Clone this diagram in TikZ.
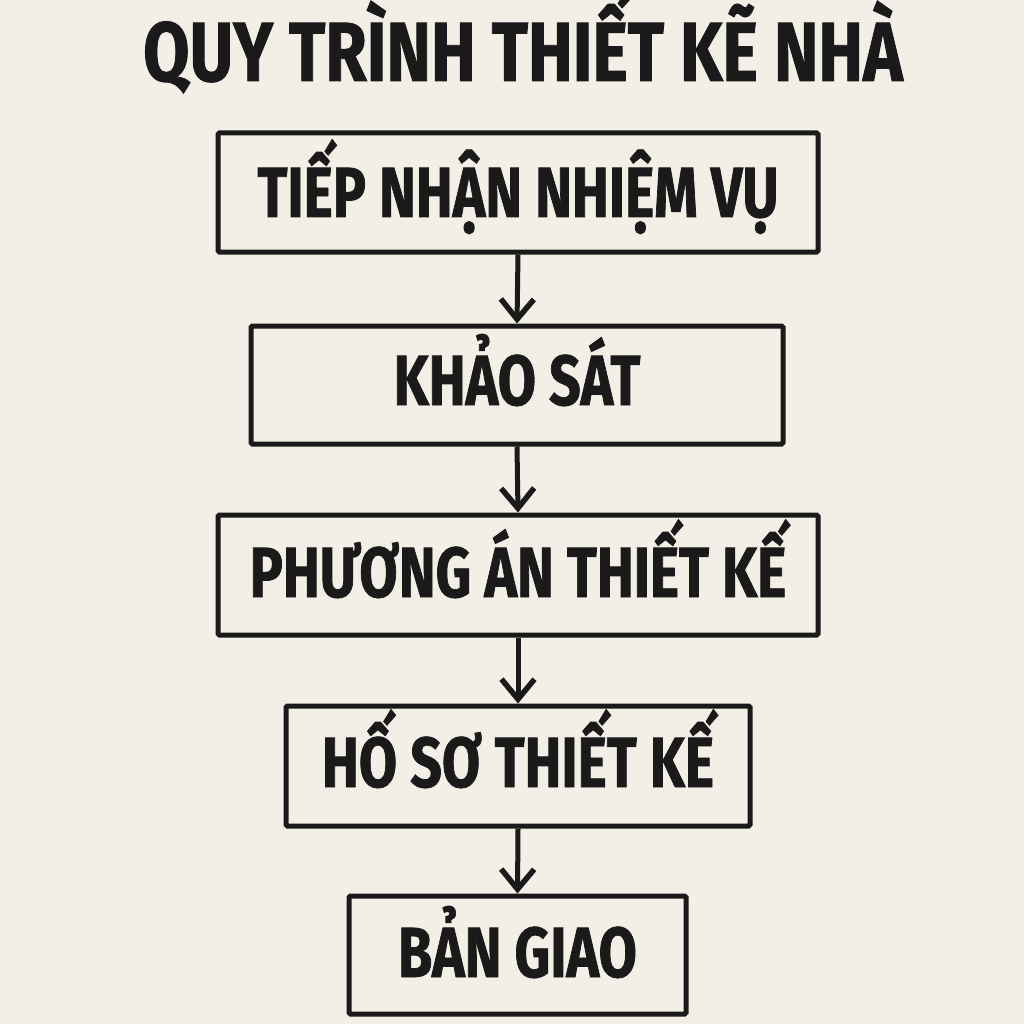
\documentclass[tikz,border=0pt]{standalone}
\usepackage{fontspec}
\setmainfont{Fira Sans}[FakeStretch=0.78,FakeBold=1]
\newfontfamily\titlefont{Fira Sans}[FakeStretch=0.8,FakeBold=1]
\usetikzlibrary{arrows.meta}
\definecolor{bg}{RGB}{243,239,231}
\definecolor{ink}{RGB}{26,26,26}
\tikzset{
  stepbox/.style={draw=ink, line width=5pt, rounded corners=1.5pt, inner sep=0pt, font=\fontsize{71}{71}\bfseries, text=ink, text height=44pt, text depth=0pt},
  flow/.style={draw=ink, line width=5pt, -{Straight Barb[length=20pt,width=33pt,line width=5.5pt]}},
}
\begin{document}
\begin{tikzpicture}[x=1pt,y=-1pt]
\fill[bg] (0,0) rectangle (1024,1024);
\useasboundingbox (0,0) rectangle (1024,1024);
\node[anchor=base, font=\titlefont\fontsize{84}{84}\bfseries, text=ink] (title) at (523,81) {QUY TRÌNH THIẾT KẼ NHÀ};
\node[stepbox, text height=49pt, minimum width=600pt, minimum height=119pt] (s1) at (518,192.5) {TIẾP NHẬN NHIỆM VỤ};
\node[stepbox, text height=40pt, minimum width=532pt, minimum height=118pt] (s2) at (517,385) {KHẢO SÁT};
\node[stepbox, minimum width=600pt, minimum height=120pt] (s3) at (518,575) {PHƯƠNG ÁN THIẾT KẾ};
\node[stepbox, text height=42pt, minimum width=464pt, minimum height=120pt] (s4) at (518,766) {HỐ SƠ THIẾT KẾ};
\node[stepbox, minimum width=337pt, minimum height=118pt] (s5) at (517.5,955) {BẢN GIAO};
\draw[flow] (s1.south) -- (s2.north);
\draw[flow] (s2.south) -- (s3.north);
\draw[flow] (s3.south) -- (s4.north);
\draw[flow] (s4.south) -- (s5.north);
\end{tikzpicture}
\end{document}
